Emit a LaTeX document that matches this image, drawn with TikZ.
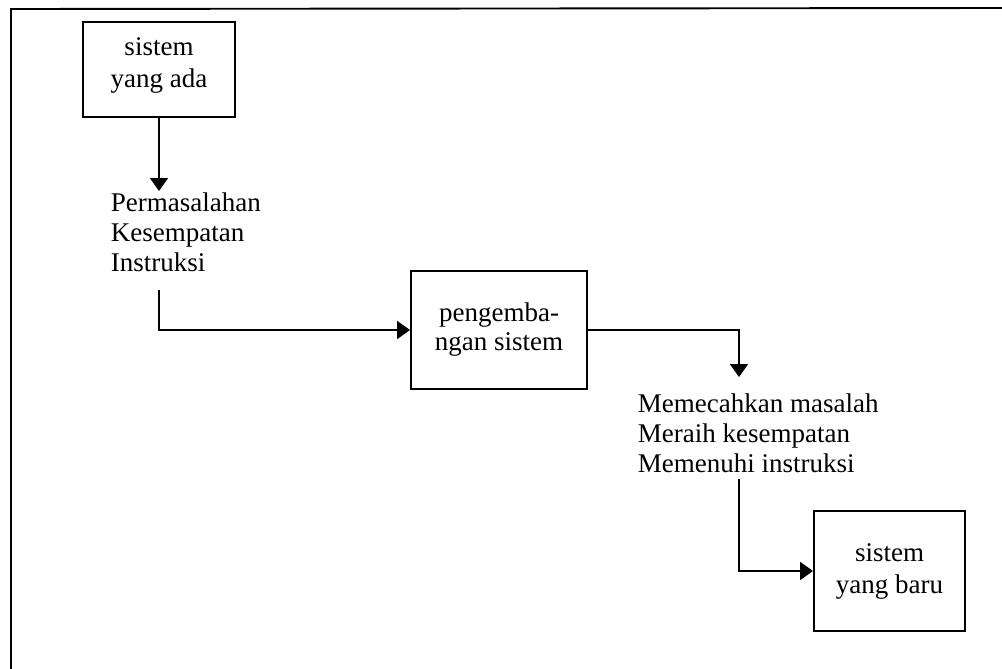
\documentclass[tikz,border=0pt]{standalone}
\usepackage{fontspec}
\setmainfont{Liberation Serif}
\usetikzlibrary{arrows.meta}
\begin{document}
\begin{tikzpicture}[x=1pt,y=-1pt,
  line width=1.9pt,
  procbox/.style={draw, align=center, inner sep=0pt, font=\fontsize{27}{32}\selectfont},
  note/.style={align=left, inner sep=0pt, anchor=north west, font=\fontsize{27}{30}\selectfont},
  flow/.style={-{Triangle[length=13pt,width=18pt]}, line width=1.9pt},
]
\clip (0,0) rectangle (1002,669);
\fill[white] (0,0) rectangle (1002,669);
% outer frame (runs past the page on the right and bottom)
\draw (1010,8) -- (11,9) -- (11,680);

% process boxes
\node[procbox, minimum width=152pt, minimum height=95pt,
  label={[align=center, inner sep=0pt, yshift=4pt, font=\fontsize{27}{32}\selectfont]center:{sistem\\yang ada}}]
  (lama) at (159,69.5) {};
\node[procbox, minimum width=176pt, minimum height=118pt, font=\fontsize{27}{29}\selectfont] (proses) at (499,330) {pengemba-\\ngan sistem};
\node[procbox, minimum width=151pt, minimum height=120pt] (baru) at (889.5,571) {sistem\\yang baru};

% inputs and outputs
\node[note] (masalah) at (110,192) {Permasalahan\\Kesempatan\\Instruksi};
\node[note] (hasil) at (637,393) {Memecahkan masalah\\Meraih kesempatan\\Memenuhi instruksi};

\coordinate (turn) at (739,0);

% connectors
\draw[flow] (lama.south) -- ([yshift=1pt]lama.south |- masalah.north);
\draw[flow] ([yshift=-17pt]masalah.south -| lama.south) |- (proses.west);
\draw[flow] (proses.east) -| ([yshift=16pt]turn |- hasil.north);
\draw[flow] ([yshift=-5pt]turn |- hasil.south) |- (baru.west);
\end{tikzpicture}
\end{document}
